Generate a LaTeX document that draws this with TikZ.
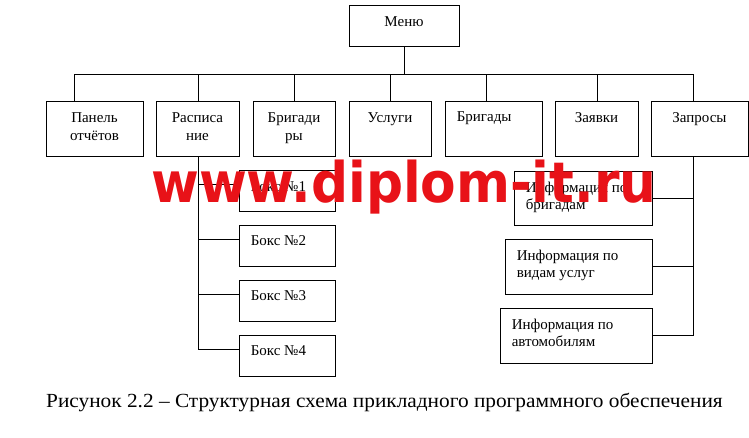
\documentclass[tikz,border=0pt]{standalone}
\usepackage{fontspec}
\setmainfont{Liberation Serif}
\newfontfamily\wmfont{DejaVu Sans}
\definecolor{wmred}{RGB}{232,18,24}
\tikzset{
  box/.style={draw,line width=0.8pt,inner sep=0,minimum height=55pt},
  boxfont/.style={font=\fontsize{15}{17.5}\selectfont},
  mid/.style={label={[anchor=north,yshift=-12pt,align=center,inner sep=0,boxfont]north:#1}},
  lft/.style={label={[anchor=north west,xshift=12pt,yshift=-11pt,align=left,inner sep=0,boxfont]north west:#1}},
  wire/.style={line width=0.8pt}
}
\begin{document}
\begin{tikzpicture}[x=1pt,y=-1pt]
  \useasboundingbox (0,0) rectangle (749,438);
  % top level
  \node[box,minimum width=110pt,minimum height=41pt,mid=Меню] (menu) at (404,25.5) {};
  % second level
  \node[box,minimum width=97pt,mid={Панель\\отчётов}] (panel) at (94.5,128.5) {};
  \node[box,minimum width=83pt,mid={Расписа\\ние}] (raspis) at (197.5,128.5) {};
  \node[box,minimum width=82pt,mid={Бригади\\ры}] (brigadir) at (294,128.5) {};
  \node[box,minimum width=82pt,mid=Услуги] (uslugi) at (390,128.5) {};
  \node[box,minimum width=97pt,lft=Бригады] (brigady) at (493.5,128.5) {};
  \node[box,minimum width=83pt,mid=Заявки] (zayavki) at (596.5,128.5) {};
  \node[box,minimum width=97pt,mid=Запросы] (zapros) at (699.5,128.5) {};
  % boxes
  \foreach \i/\y in {1/191,2/245.5,3/300.5,4/355.5}
    \node[box,minimum width=96pt,minimum height=41pt,lft={Бокс №\i}] (boks\i) at (287,\y) {};
  % queries
  \node[box,minimum width=138pt,minimum height=54pt,lft={Информация по\\бригадам}] (infobrig) at (583,198) {};
  \node[box,minimum width=147pt,lft={Информация по\\видам услуг}] (infousl) at (578.5,266.5) {};
  \node[box,minimum width=152pt,lft={Информация по\\автомобилям}] (infoavto) at (576,335.5) {};
  % bus
  \coordinate (bus) at ([yshift=-28pt]menu.south);
  \draw[wire] (menu.south) -- (bus);
  \draw[wire] ([xshift=-20.5pt]panel.north) |- (bus) -| ([xshift=-6.5pt]zapros.north);
  \foreach \n/\dx in {raspis/0.5,brigadir/0,uslugi/0,brigady/-7,zayavki/0.5}
    \draw[wire] ([xshift=\dx pt]\n.north) -- ([xshift=\dx pt]\n.north |- bus);
  % left branch
  \coordinate (rasdrop) at ([xshift=0.5pt]raspis.south);
  \draw[wire] (rasdrop) |- ([yshift=6.5pt]boks4.west);
  \foreach \i in {1,2,3}
    \draw[wire] ([yshift=6.5pt]boks\i.west) -- ([yshift=6.5pt]boks\i.west -| rasdrop);
  % right branch
  \coordinate (zapdrop) at ([xshift=-6.5pt]zapros.south);
  \draw[wire] (zapdrop) |- (infoavto.east);
  \foreach \n in {infobrig,infousl}
    \draw[wire] (\n.east) -- (\n.east -| zapdrop);
  % caption
  \node[font=\fontsize{20}{23}\selectfont,anchor=base west,inner sep=0] (caption) at (46,407)
    {\scalebox{1.066}[1]{Рисунок 2.2 – Структурная схема прикладного программного обеспечения}};
  % watermark
  \node[text=wmred,font=\wmfont\bfseries\fontsize{56}{60}\selectfont,anchor=base west,inner sep=0] (watermark) at (151,203)
    {\scalebox{0.925}[1]{www.diplom-it.ru}};
\end{tikzpicture}
\end{document}
